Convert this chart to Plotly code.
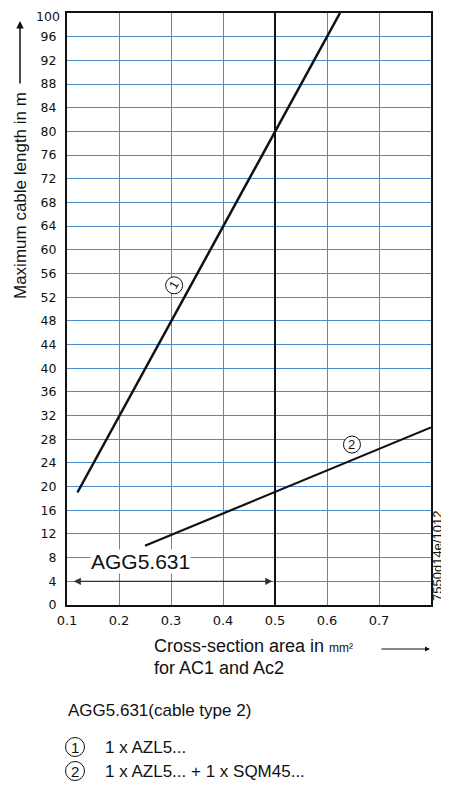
import plotly.graph_objects as go

# data
x_ticks = [0.1, 0.2, 0.3, 0.4, 0.5, 0.6, 0.7]
y_ticks = list(range(0, 101, 4))

curve1_x = [0.12, 0.625]   # 1 x AZL5...
curve1_y = [19, 100]
curve2_x = [0.25, 0.8]     # 1 x AZL5... + 1 x SQM45...
curve2_y = [10, 30]

limit_x = [0.5, 0.5]       # AGG5.631 cross-section limit
limit_y = [0, 100]
span_x = [0.11, 0.495]     # arrow range for AGG5.631
span_y = 4

FONT = "Liberation Sans, Arial, sans-serif"
TICKFONT = dict(family="DejaVu Sans", size=12.5, color="#111111")
INK = "#111111"

# page body adds an 8px offset; positions below are given in window pixels
OFF = 8
W, H = 449, 785 - OFF
L, T = 67 - OFF, 13 - OFF
R = W - (431 - OFF)
B = H - (605 - OFF)
PW, PH = W - L - R, H - T - B


def px(xw):
    # window pixel x -> paper x
    return (xw - OFF - L) / PW


def py(yw):
    # window pixel y -> paper y
    return (H - B - (yw - OFF)) / PH


fig = go.Figure()

fig.add_trace(go.Scatter(x=curve1_x, y=curve1_y, mode="lines",
                         line=dict(color=INK, width=2.5)))
fig.add_trace(go.Scatter(x=curve2_x, y=curve2_y, mode="lines",
                         line=dict(color=INK, width=2.2)))
fig.add_trace(go.Scatter(x=limit_x, y=limit_y, mode="lines",
                         line=dict(color=INK, width=2)))

ann = []
shapes = []


def circled(label, x, y, ref, angle=0, d=18, size=14):
    # thin circle with a digit inside
    shapes.append(dict(type="circle", xref=ref[0], yref=ref[1],
                       xsizemode="pixel", ysizemode="pixel", xanchor=x, yanchor=y,
                       x0=-d / 2, x1=d / 2, y0=-d / 2, y1=d / 2,
                       line=dict(color=INK, width=1), fillcolor="white", layer="above"))
    ann.append(dict(x=x, y=y, xref=ref[0], yref=ref[1], text=label, showarrow=False,
                    textangle=angle, xanchor="center", yanchor="middle",
                    font=dict(family=FONT, size=size, color=INK)))


# top tick label sits at the page edge, nudge it down a little so it stays whole
ann.append(dict(x=0, y=y_ticks[-1], xref="paper", yref="y", text=str(y_ticks[-1]),
                showarrow=False, xanchor="right", yanchor="middle", xshift=-5, yshift=-3,
                font=TICKFONT))

# double-headed range arrow
ann.append(dict(x=span_x[1], y=span_y, ax=span_x[0], ay=span_y, xref="x", yref="y",
                axref="x", ayref="y", text="", showarrow=True, arrowhead=2,
                arrowside="end+start", arrowsize=1.1, arrowwidth=1.3, arrowcolor="#333333"))
ann.append(dict(x=0.242, y=7.4, xref="x", yref="y", text="AGG5.631", showarrow=False,
                bgcolor="white", borderpad=0, xanchor="center", yanchor="middle",
                font=dict(family=FONT, size=21, color=INK)))
# curve markers
circled("1", 0.306, 54.0, ("x", "y"), angle=-60, d=17, size=12)
circled("2", 0.648, 27.1, ("x", "y"), d=17, size=13)

# y axis title with arrow
ann.append(dict(x=px(20), y=py(196), xref="paper", yref="paper", text="Maximum cable length in m",
                textangle=-90, showarrow=False, xanchor="center", yanchor="middle",
                font=dict(family=FONT, size=17, color=INK)))
ann.append(dict(x=px(20), y=py(21), xref="paper", yref="paper", text="", showarrow=True,
                ax=0, ay=64, arrowhead=2, arrowsize=1, arrowwidth=1.5, arrowcolor=INK))

# x axis title with arrow
ann.append(dict(x=px(152), y=py(646), xref="paper", yref="paper", xanchor="left",
                yanchor="middle",
                text="Cross-section area in <span style='font-size:12px'>mm²</span>",
                showarrow=False, font=dict(family=FONT, size=18, color=INK)))
ann.append(dict(x=px(430), y=py(649), xref="paper", yref="paper", text="", showarrow=True,
                ax=-50, ay=0, arrowhead=2, arrowsize=1, arrowwidth=1, arrowcolor=INK))
ann.append(dict(x=px(152), y=py(668), xref="paper", yref="paper", xanchor="left",
                yanchor="middle", text="for AC1 and Ac2", showarrow=False,
                font=dict(family=FONT, size=18, color=INK)))

# document id on the right
ann.append(dict(x=px(437), y=py(556), xref="paper", yref="paper", text="7550d14e/1012",
                textangle=-90, showarrow=False, xanchor="center", yanchor="middle",
                font=dict(family=FONT, size=13, color=INK)))

# notes below the chart
ann.append(dict(x=px(66), y=py(710), xref="paper", yref="paper", xanchor="left",
                yanchor="middle", text="AGG5.631(cable type 2)", showarrow=False,
                font=dict(family=FONT, size=17, color=INK)))
circled("1", px(75), py(747), ("paper", "paper"), d=19, size=15)
ann.append(dict(x=px(103), y=py(747), xref="paper", yref="paper", xanchor="left",
                yanchor="middle", text="1 x AZL5...", showarrow=False,
                font=dict(family=FONT, size=17, color=INK)))
circled("2", px(75), py(771), ("paper", "paper"), d=19, size=15)
ann.append(dict(x=px(103), y=py(771), xref="paper", yref="paper", xanchor="left",
                yanchor="middle", text="1 x AZL5... + 1 x SQM45...", showarrow=False,
                font=dict(family=FONT, size=17, color=INK)))

fig.update_xaxes(
    range=[0.1, 0.8], tickvals=x_ticks, ticktext=[f"{v:.1f}" for v in x_ticks],
    showgrid=True, gridcolor="#4d8cc6", gridwidth=1, zeroline=False,
    showline=True, linecolor=INK, linewidth=2, mirror=True,
    ticks="", ticklabelstandoff=2, tickfont=dict(TICKFONT, size=13),
)
fig.update_yaxes(
    range=[0, 100], tickvals=y_ticks[:-1], showgrid=True, gridcolor="#4d8cc6", gridwidth=1,
    zeroline=False, showline=True, linecolor=INK, linewidth=2, mirror=True,
    ticks="", ticklabelstandoff=6, tickfont=TICKFONT,
)
fig.update_layout(
    width=W, height=H, showlegend=False,
    margin=dict(l=L, r=R, t=T, b=B, autoexpand=False),
    plot_bgcolor="white", paper_bgcolor="white",
    annotations=ann, shapes=shapes,
)

fig.write_html("out.html")
